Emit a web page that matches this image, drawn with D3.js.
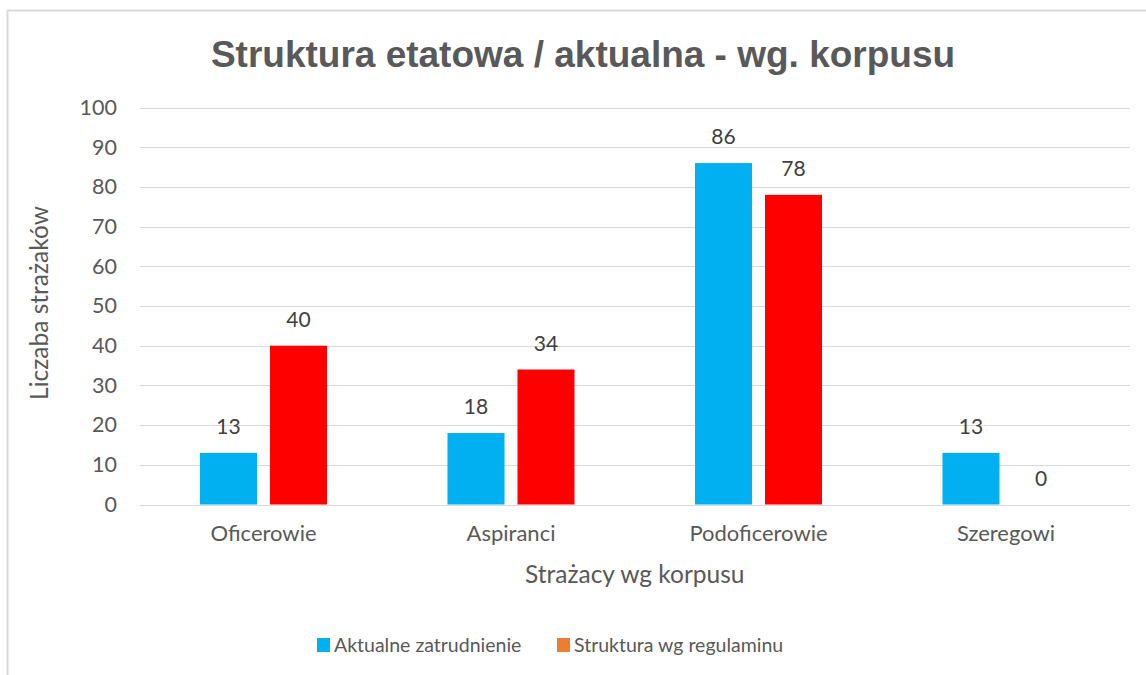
<!DOCTYPE html>
<html><head><meta charset="utf-8">
<script src="https://cdn.jsdelivr.net/npm/d3@7"></script>
<style>body{margin:0;background:#fff}svg{display:block}</style>
</head><body>
<script>
const categories = ["Oficerowie", "Aspiranci", "Podoficerowie", "Szeregowi"];
const seriesNames = ["Aktualne zatrudnienie", "Struktura wg regulaminu"];
const aktualne = [13, 18, 86, 13];
const regulamin = [40, 34, 78, 0];
const yTicks = [0, 10, 20, 30, 40, 50, 60, 70, 80, 90, 100];
const barColors = ["#00B0F0", "#FF0000"];
const legendColors = ["#00B0F0", "#ED7D31"];

const W = 1146, H = 675;
const svg = d3.select("body").append("svg").attr("width", W).attr("height", H);
const font = "Lato, 'Open Sans', sans-serif";

// chart border
svg.append("rect").attr("x", 7.5).attr("y", 10.5).attr("width", 1160).attr("height", 700)
  .attr("fill", "#fff").attr("stroke", "#d9d9d9").attr("stroke-width", 2);

const x = d3.scaleBand().domain(categories).range([139.75, 1129.75]);
const y = d3.scaleLinear().domain([0, 100]).range([504.5, 107.5]);
const inner = d3.scaleBand().domain([0, 1]).range([-63.5, 63.5]).paddingInner(13 / 70);

// gridlines
svg.append("g").selectAll("line").data(yTicks).join("line")
  .attr("x1", x.range()[0]).attr("x2", x.range()[1])
  .attr("y1", d => Math.round(y(d)) + 0.5).attr("y2", d => Math.round(y(d)) + 0.5)
  .attr("stroke", "#d9d9d9").attr("stroke-width", 1);

// y axis labels
const yAxis = d3.axisLeft(y).tickValues(yTicks).tickSize(0).tickPadding(0);
const gy = svg.append("g").attr("transform", "translate(117,0)").call(yAxis);
gy.select(".domain").remove();
gy.selectAll("text").attr("font-family", font).attr("font-size", 21.5).attr("fill", "#595959");

// x axis labels
const xAxis = d3.axisBottom(x).tickSize(0).tickPadding(0);
const gx = svg.append("g").attr("transform", "translate(0,525)").call(xAxis);
gx.select(".domain").remove();
gx.selectAll("text").attr("font-family", font).attr("font-size", 22).attr("fill", "#595959");

const data = categories.map((c, i) => ({c, vals: [aktualne[i], regulamin[i]]}));
const groups = svg.append("g").selectAll("g").data(data).join("g")
  .attr("transform", d => `translate(${x(d.c) + x.bandwidth() / 2},0)`);

groups.selectAll("rect").data(d => d.vals.map((v, k) => ({v, k}))).join("rect")
  .attr("x", d => inner(d.k))
  .attr("width", inner.bandwidth())
  .attr("y", d => y(d.v)).attr("height", d => y(0) - y(d.v))
  .attr("fill", d => barColors[d.k]);

groups.selectAll("text").data(d => d.vals.map((v, k) => ({v, k}))).join("text")
  .attr("x", d => inner(d.k) + inner.bandwidth() / 2)
  .attr("y", d => y(d.v) - 19)
  .attr("text-anchor", "middle").attr("font-family", font).attr("font-size", 21)
  .attr("fill", "#404040").text(d => d.v);

// title
svg.append("text").attr("x", 583).attr("y", 67).attr("text-anchor", "middle")
  .attr("font-family", "'Liberation Sans', Arial, sans-serif").attr("font-weight", "bold")
  .attr("font-size", 37).attr("fill", "#595959").text("Struktura etatowa / aktualna - wg. korpusu");

// axis titles
svg.append("text").attr("x", 634.75).attr("y", 583).attr("text-anchor", "middle")
  .attr("font-family", font).attr("font-size", 24.5).attr("fill", "#595959").text("Strażacy wg korpusu");
svg.append("text").attr("transform", "translate(48,303) rotate(-90)").attr("text-anchor", "middle")
  .attr("font-family", font).attr("font-size", 24.5).attr("fill", "#595959").text("Liczaba strażaków");

// legend
const legX = [317, 557];
const leg = svg.append("g").selectAll("g").data(seriesNames).join("g")
  .attr("transform", (d, i) => `translate(${legX[i]},638)`);
leg.append("rect").attr("width", 13).attr("height", 14).attr("fill", (d, i) => legendColors[i]);
leg.append("text").attr("x", 17).attr("y", 14).attr("font-family", font).attr("font-size", 19.5)
  .attr("fill", "#595959").text(d => d);
</script>
</body></html>
